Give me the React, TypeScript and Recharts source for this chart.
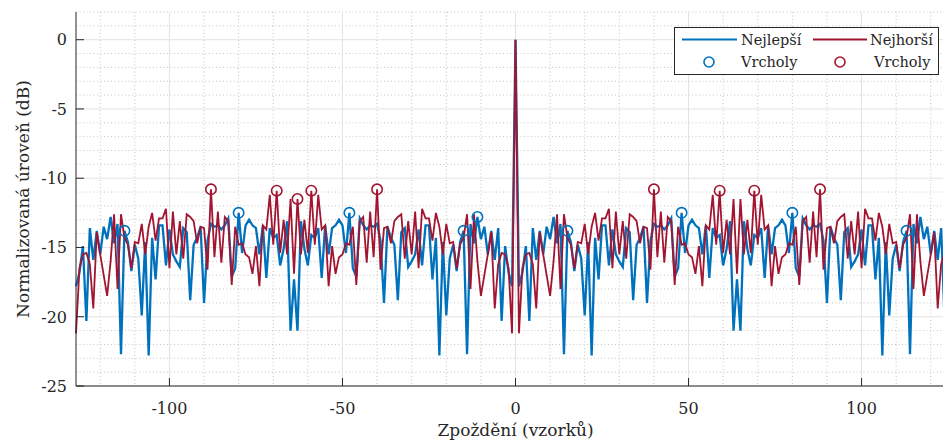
import React from 'react';
import { ComposedChart, Line, XAxis, YAxis, CartesianGrid, Legend } from 'recharts';

// lags run from -127 to 127, one value per lag
const firstLag = -127;

// Nejlepší (best sequence), dB
const best = [
  -17.8, -16.8, -14.9, -20.3, -13.6, -15.9, -13.8, -15.5, -13.5, -14.4,
  -12.8, -14.7, -13.3, -22.7, -13.8, -14.6, -16.7, -14.8, -15.8, -19.9,
  -14.6, -22.8, -14.3, -17.3, -13.4, -13.4, -16.3, -13.7, -15.5, -16.0,
  -16.4, -13.6, -13.9, -18.8, -14.8, -14.3, -13.5, -19.0, -14.5, -13.3,
  -13.5, -13.4, -13.7, -13.4, -12.9, -17.1, -16.5, -12.5, -15.4, -13.4,
  -13.0, -13.4, -13.6, -15.5, -13.4, -17.2, -13.6, -14.3, -14.1, -16.3,
  -15.1, -13.1, -21.0, -17.3,
  -21.0, -13.1, -15.1,
  -16.3, -14.1, -14.3, -13.6, -17.2, -13.4, -15.5, -13.6, -13.4, -13.0,
  -13.4, -15.4, -12.5, -16.5, -17.1, -12.9, -13.4, -13.7, -13.4, -13.5,
  -13.3, -14.5, -19.0, -13.5, -14.3, -14.8, -18.8, -13.9, -13.6, -16.4,
  -16.0, -15.5, -13.7, -16.3, -13.4, -13.4, -17.3, -14.3, -22.8, -14.6,
  -19.9, -15.8, -14.8, -16.7, -14.6, -13.8, -22.7, -13.3, -14.7, -12.8,
  -14.4, -13.5, -15.5, -13.8, -15.9, -13.6, -20.3, -14.9, -16.8, -17.8,
  0,
  -17.8, -16.8, -14.9, -20.3, -13.6, -15.9, -13.8, -15.5, -13.5, -14.4,
  -12.8, -14.7, -13.3, -22.7, -13.8, -14.6, -16.7, -14.8, -15.8, -19.9,
  -14.6, -22.8, -14.3, -17.3, -13.4, -13.4, -16.3, -13.7, -15.5, -16.0,
  -16.4, -13.6, -13.9, -18.8, -14.8, -14.3, -13.5, -19.0, -14.5, -13.3,
  -13.5, -13.4, -13.7, -13.4, -12.9, -17.1, -16.5, -12.5, -15.4, -13.4,
  -13.0, -13.4, -13.6, -15.5, -13.4, -17.2, -13.6, -14.3, -14.1, -16.3,
  -15.1, -13.1, -21.0, -17.3,
  -21.0, -13.1, -15.1,
  -16.3, -14.1, -14.3, -13.6, -17.2, -13.4, -15.5, -13.6, -13.4, -13.0,
  -13.4, -15.4, -12.5, -16.5, -17.1, -12.9, -13.4, -13.7, -13.4, -13.5,
  -13.3, -14.5, -19.0, -13.5, -14.3, -14.8, -18.8, -13.9, -13.6, -16.4,
  -16.0, -15.5, -13.7, -16.3, -13.4, -13.4, -17.3, -14.3, -22.8, -14.6,
  -19.9, -15.8, -14.8, -16.7, -14.6, -13.8, -22.7, -13.3, -14.7, -12.8,
  -14.4, -13.5, -15.5, -13.8, -15.9, -13.6, -20.3, -14.9, -16.8, -17.8,
];

// Nejhorší (worst sequence), dB
const worst = [
  -21.2, -16.5, -15.5, -15.4, -16.2, -19.4, -13.9, -15.5, -17.0, -18.5,
  -16.0, -12.6, -18.0, -12.6, -14.3, -14.8, -16.5, -14.6, -14.7, -13.3,
  -15.5, -13.5, -12.5, -14.5, -12.9, -12.9, -12.2, -16.5, -12.4, -15.5,
  -13.1, -15.8, -12.6, -12.8, -13.1, -14.7, -13.5, -13.6, -16.6, -10.8,
  -15.7, -12.4, -16.1, -12.8, -13.1, -17.7, -13.5, -14.8, -14.7, -15.5,
  -15.7, -16.9, -14.9, -17.8, -13.4, -13.7, -11.2, -14.8, -10.9, -15.4,
  -13.0, -15.5, -11.5, -16.9,
  -11.5, -15.5, -13.0,
  -15.4, -10.9, -14.8, -11.2, -13.7, -13.4, -17.8, -14.9, -16.9, -15.7,
  -15.5, -14.7, -14.8, -13.5, -17.7, -13.1, -12.8, -16.1, -12.4, -15.7,
  -10.8, -16.6, -13.6, -13.5, -14.7, -13.1, -12.8, -12.6, -15.8, -13.1,
  -15.5, -12.4, -16.5, -12.2, -12.9, -12.9, -14.5, -12.5, -13.5, -15.5,
  -13.3, -14.7, -14.6, -16.5, -14.8, -14.3, -12.6, -18.0, -12.6, -16.0,
  -18.5, -17.0, -15.5, -13.9, -19.4, -16.2, -15.4, -15.5, -16.5, -21.2,
  0,
  -21.2, -16.5, -15.5, -15.4, -16.2, -19.4, -13.9, -15.5, -17.0, -18.5,
  -16.0, -12.6, -18.0, -12.6, -14.3, -14.8, -16.5, -14.6, -14.7, -13.3,
  -15.5, -13.5, -12.5, -14.5, -12.9, -12.9, -12.2, -16.5, -12.4, -15.5,
  -13.1, -15.8, -12.6, -12.8, -13.1, -14.7, -13.5, -13.6, -16.6, -10.8,
  -15.7, -12.4, -16.1, -12.8, -13.1, -17.7, -13.5, -14.8, -14.7, -15.5,
  -15.7, -16.9, -14.9, -17.8, -13.4, -13.7, -11.2, -14.8, -10.9, -15.4,
  -13.0, -15.5, -11.5, -16.9,
  -11.5, -15.5, -13.0,
  -15.4, -10.9, -14.8, -11.2, -13.7, -13.4, -17.8, -14.9, -16.9, -15.7,
  -15.5, -14.7, -14.8, -13.5, -17.7, -13.1, -12.8, -16.1, -12.4, -15.7,
  -10.8, -16.6, -13.6, -13.5, -14.7, -13.1, -12.8, -12.6, -15.8, -13.1,
  -15.5, -12.4, -16.5, -12.2, -12.9, -12.9, -14.5, -12.5, -13.5, -15.5,
  -13.3, -14.7, -14.6, -16.5, -14.8, -14.3, -12.6, -18.0, -12.6, -16.0,
  -18.5, -17.0, -15.5, -13.9, -19.4, -16.2, -15.4, -15.5, -16.5, -21.2,
];

// lags marked as peaks (Vrcholy)
const bestPeakLags = [-113, -80, -48, -15, -11, 15, 48, 80, 113];
const worstPeakLags = [-88, -69, -63, -59, -40, 40, 59, 69, 88];

const xTicks = [-100, -50, 0, 50, 100];
const yTicks = [-25, -20, -15, -10, -5, 0];
const xMinor = [-120, -110, -90, -80, -70, -60, -40, -30, -20, -10, 10, 20, 30, 40, 60, 70, 80, 90, 110, 120];
const yMinor = [-24, -23, -22, -21, -19, -18, -17, -16, -14, -13, -12, -11, -9, -8, -7, -6, -4, -3, -2, -1, 1, 2];

const BLUE = '#0072BD';
const RED = '#A2142F';
const INK = '#262626';
const FONT = '"DejaVu Serif", serif';

const rows = best.map((b, i) => {
  const lag = firstLag + i;
  return {
    lag,
    best: b,
    worst: worst[i],
    bestPeak: bestPeakLags.includes(lag) ? b : null,
    worstPeak: worstPeakLags.includes(lag) ? worst[i] : null,
  };
});

const XTick = (props: any) => {
  const { x, y, payload } = props;
  return (
    <g>
      <line x1={x} x2={x} y1={y} y2={y - 8} stroke={INK} />
      <text x={x} y={y + 28} textAnchor="middle" fontFamily={FONT} fontSize={16} fill={INK}>
        {payload.value}
      </text>
    </g>
  );
};

const YTick = (props: any) => {
  const { x, y, payload } = props;
  return (
    <g>
      <line x1={x} x2={x + 8} y1={y} y2={y} stroke={INK} />
      <text x={x - 9} y={y} dy="0.36em" textAnchor="end" fontFamily={FONT} fontSize={16} fill={INK}>
        {payload.value}
      </text>
    </g>
  );
};

const renderLegend = () => (
  <div style={{ width: 265, height: 48, border: `1px solid ${INK}`, background: '#fff', boxSizing: 'border-box' }}>
    <svg width={263} height={46} style={{ display: 'block' }}>
      <line x1={7} x2={62} y1={11.5} y2={11.5} stroke={BLUE} strokeWidth={2} />
      <text x={66} y={11.5} dy="0.35em" fontFamily={FONT} fontSize={14.5} fill={INK}>Nejlepší</text>
      <line x1={138} x2={192} y1={11.5} y2={11.5} stroke={RED} strokeWidth={1.8} />
      <text x={195} y={11.5} dy="0.35em" fontFamily={FONT} fontSize={14.5} fill={INK}>Nejhorší</text>
      <circle cx={34} cy={34} r={5} fill="none" stroke={BLUE} strokeWidth={1.6} />
      <text x={66} y={34} dy="0.35em" fontFamily={FONT} fontSize={14.5} fill={INK}>Vrcholy</text>
      <circle cx={165} cy={34} r={5} fill="none" stroke={RED} strokeWidth={1.6} />
      <text x={199} y={34} dy="0.35em" fontFamily={FONT} fontSize={14.5} fill={INK}>Vrcholy</text>
    </svg>
  </div>
);

export default function App() {
  return (
    <div style={{ position: 'absolute', left: 0, top: 0, width: 943, height: 441, overflow: 'hidden', background: '#fff' }}>
      <ComposedChart width={965} height={441} data={rows} margin={{ top: 12, right: 10, bottom: 15, left: 16 }}>
        <CartesianGrid verticalValues={xMinor} horizontalValues={yMinor} stroke="#c4c4c4" strokeDasharray="1 2.5" />
        <CartesianGrid verticalValues={xTicks} horizontalValues={yTicks} stroke="#e3e3e3" />
        <XAxis
          dataKey="lag"
          type="number"
          domain={[-127, 127]}
          ticks={xTicks}
          interval={0}
          tickSize={0}
          tickMargin={0}
          height={40}
          axisLine={{ stroke: INK }}
          tick={(p: any) => <XTick {...p} />}
          label={{
            content: (p: any) => (
              <text x={p.viewBox.x + p.viewBox.width / 2} y={p.viewBox.y + 50} textAnchor="middle" fontFamily={FONT} fontSize={17} fill={INK}>
                Zpoždění (vzorků)
              </text>
            ),
          }}
        />
        <YAxis
          type="number"
          domain={[-25, 2]}
          ticks={yTicks}
          interval={0}
          tickSize={0}
          tickMargin={0}
          width={60}
          axisLine={{ stroke: INK }}
          tick={(p: any) => <YTick {...p} />}
          label={{
            content: (p: any) => {
              const cy = p.viewBox.y + p.viewBox.height / 2;
              return (
                <text x={29} y={cy} transform={`rotate(-90 29 ${cy})`} textAnchor="middle" fontFamily={FONT} fontSize={17} fill={INK}>
                  Normalizovaná úroveň (dB)
                </text>
              );
            },
          }}
        />
        <Line dataKey="best" type="linear" stroke={BLUE} strokeWidth={2.3} dot={false} activeDot={false} isAnimationActive={false} />
        <Line dataKey="worst" type="linear" stroke={RED} strokeWidth={1.8} dot={false} activeDot={false} isAnimationActive={false} />
        <Line dataKey="bestPeak" stroke="none" dot={{ r: 5.2, fill: 'none', stroke: BLUE, strokeWidth: 1.6 }} activeDot={false} isAnimationActive={false} />
        <Line dataKey="worstPeak" stroke="none" dot={{ r: 5.2, fill: 'none', stroke: RED, strokeWidth: 1.6 }} activeDot={false} isAnimationActive={false} />
        <Legend
          content={renderLegend}
          layout="vertical"
          align="center"
          verticalAlign="middle"
          wrapperStyle={{ left: 674, top: 27, width: 265, height: 48 }}
        />
      </ComposedChart>
    </div>
  );
}
